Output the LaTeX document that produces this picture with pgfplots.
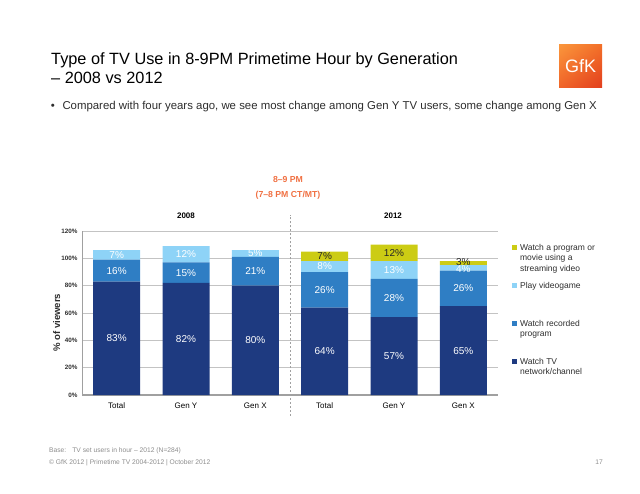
\documentclass[border=0pt]{standalone}
\usepackage{pgfplots}
\pgfplotsset{compat=1.18}
\usetikzlibrary{shadings}
\usepackage{fontspec}
\setmainfont{Liberation Sans}
\definecolor{navy}{RGB}{30,58,128}
\definecolor{midblue}{RGB}{47,126,196}
\definecolor{lightblue}{RGB}{142,211,247}
\definecolor{olive}{RGB}{204,204,20}
\definecolor{orangetxt}{RGB}{240,112,66}
\definecolor{gridgray}{RGB}{195,195,195}
\definecolor{axisgray}{RGB}{160,160,160}
\definecolor{txtgray}{RGB}{45,45,45}
\definecolor{footgray}{RGB}{140,140,140}
\definecolor{lgA}{RGB}{250,150,60}
\definecolor{lgB}{RGB}{242,110,40}
\definecolor{lgC}{RGB}{240,100,40}
\definecolor{lgD}{RGB}{226,62,30}
\newcommand\lgd[1]{\begin{tabular}[t]{@{}l@{}}#1\end{tabular}}
\pgfplotsset{sq legend/.style={legend image code/.code={\fill[##1] (0pt,0.5pt) rectangle (5pt,5.5pt);}}}
\begin{document}
\begin{tikzpicture}[x=1pt,y=1pt]
\useasboundingbox (0,0) rectangle (640,493);
% header
\node[anchor=base west, inner sep=0, text=black, font=\fontsize{16.3}{19}\selectfont] at (51,428.7) {Type of TV Use in 8-9PM Primetime Hour by Generation};
\node[anchor=base west, inner sep=0, text=black, font=\fontsize{16.3}{19}\selectfont] at (51,409) {– 2008 vs 2012};
\node[anchor=base west, inner sep=0, text=txtgray, font=\fontsize{11.4}{13}\selectfont] at (50.7,383) {•};
\node[anchor=base west, inner sep=0, text=txtgray, font=\fontsize{11.4}{13}\selectfont] at (62.3,383) {Compared with four years ago, we see most change among Gen Y TV users, some change among Gen X};
% logo
\shade[upper left=lgA, upper right=lgB, lower left=lgC, lower right=lgD] (559,405) rectangle (602,448);
\node[text=white, inner sep=0, font=\fontsize{18}{20}\selectfont] at (580.5,426.5) {GfK};
% period labels
\node[text=orangetxt, font=\fontsize{8.7}{10}\selectfont\bfseries] at (288,313) {8–9 PM};
\node[text=orangetxt, font=\fontsize{8.7}{10}\selectfont\bfseries] at (288,297.3) {(7–8 PM CT/MT)};
\node[text=black, font=\fontsize{8}{10}\selectfont\bfseries] at (186,277) {2008};
\node[text=black, font=\fontsize{8}{10}\selectfont\bfseries] at (393,277) {2012};
% footer
\node[anchor=base west, inner sep=0, text=footgray, font=\fontsize{6.7}{8}\selectfont] at (49,40.3) {Base:\hspace{6pt}TV set users in hour – 2012 (N=284)};
\node[anchor=base west, inner sep=0, text=footgray, font=\fontsize{6.7}{8}\selectfont] at (49,29) {© GfK 2012 | Primetime TV 2004-2012 | October 2012};
\node[anchor=base east, inner sep=0, text=footgray, font=\fontsize{6.7}{8}\selectfont] at (603,29) {17};
\begin{axis}[
  at={(82pt,98pt)}, anchor=south west,
  scale only axis, width=416pt, height=164pt,
  xmin=-0.5, xmax=5.5, ymin=0, ymax=120,
  ybar stacked, bar width=47pt,
  clip=false,
  axis x line*=bottom, axis y line*=left,
  x axis line style={draw=axisgray, line width=1.5pt, -},
  y axis line style={draw=axisgray, line width=0.8pt, -},
  ymajorgrids, major grid style={draw=gridgray, line width=0.9pt},
  major tick length=0pt,
  ytick={0,20,...,120},
  yticklabel={\pgfmathprintnumber{\tick}\%},
  /pgf/number format/assume math mode=true,
  yticklabel style={font=\fontsize{6.3}{7}\selectfont\bfseries, text=txtgray, xshift=-1pt},
  xtick={0,1,2,3,4,5},
  xticklabels={Total,Gen Y,Gen X,Total,Gen Y,Gen X},
  xticklabel style={font=\fontsize{8}{9}\selectfont, text=black, yshift=-4pt},
  ylabel={\% of viewers},
  every axis y label/.style={at={(axis description cs:-0.061,0.44)}, rotate=90, anchor=center, font=\fontsize{9.6}{11}\selectfont\bfseries, text=txtgray},
  reverse legend,
  legend style={draw=none, fill=none, inner sep=0pt, outer sep=0pt, row sep=0pt, column sep=3.4pt,
    at={(axis description cs:1.033,0.925)}, anchor=north west,
    font=\fontsize{8.5}{10.5}\selectfont, text=txtgray,
    nodes={inner sep=0pt, outer sep=0pt, text height=7pt, text depth=31pt},
    cells={anchor=base west}},
]
\addplot[fill=navy, draw=none, sq legend] coordinates {(0,83) (1,82) (2,80) (3,64) (4,57) (5,65)};
\addlegendentry{\lgd{Watch TV\\network/channel}}
\addplot[fill=midblue, draw=none, sq legend] coordinates {(0,16) (1,15) (2,21) (3,26) (4,28) (5,26)};
\addlegendentry{\lgd{Watch recorded\\program}}
\addplot[fill=lightblue, draw=none, sq legend] coordinates {(0,7) (1,12) (2,5) (3,8) (4,13) (5,4)};
\addlegendentry{\lgd{Play videogame}}
\addplot[fill=olive, draw=none, sq legend] coordinates {(0,0) (1,0) (2,0) (3,7) (4,12) (5,3)};
\addlegendentry{\lgd{Watch a program or\\movie using a\\streaming video}}
\draw[axisgray, line width=0.9pt, dash pattern=on 2pt off 2pt] (axis cs:2.5,-15) -- (axis cs:2.5,132);
\end{axis}
\begin{axis}[
  at={(82pt,98pt)}, anchor=south west,
  scale only axis, width=416pt, height=164pt,
  xmin=-0.5, xmax=5.5, ymin=0, ymax=120,
  hide axis, clip=false,
]
\addplot[draw=none, mark=none, nodes near coords={\pgfplotspointmeta\%}, point meta=explicit symbolic,
  nodes near coords style={anchor=center, text=white, font=\fontsize{10}{11}\selectfont}]
  coordinates {
  (0,41.5)[83] (1,41)[82] (2,40)[80] (3,32)[64] (4,28.5)[57] (5,32.5)[65]
  (0,91)[16] (1,89.5)[15] (2,90.5)[21] (3,77)[26] (4,71)[28] (5,78)[26]
  (0,102.5)[7] (1,103)[12] (2,103.5)[5] (3,94)[8] (4,91.5)[13] (5,92.5)[4]
  };
\addplot[draw=none, mark=none, nodes near coords={\pgfplotspointmeta\%}, point meta=explicit symbolic,
  nodes near coords style={anchor=center, text=black!85, font=\fontsize{10}{11}\selectfont}]
  coordinates {(3,101.5)[7] (4,104)[12] (5,97.5)[3]};
\end{axis}
\end{tikzpicture}
\end{document}
